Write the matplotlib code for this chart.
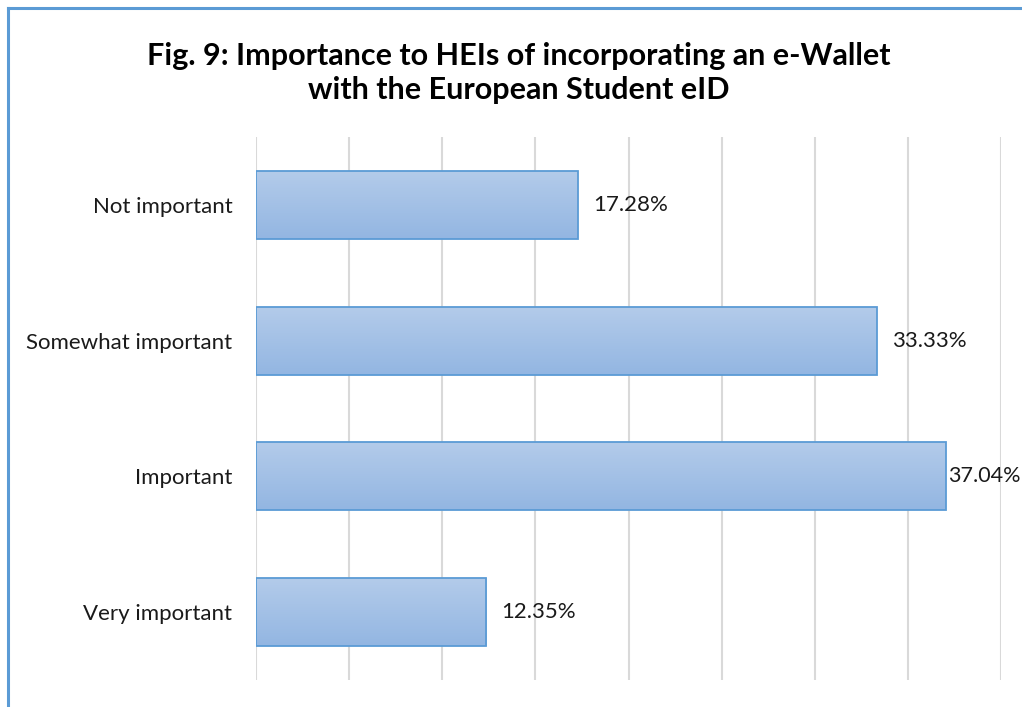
import matplotlib
matplotlib.use("Agg")
import matplotlib.pyplot as plt
import numpy as np
from matplotlib.lines import Line2D
from matplotlib.colors import LinearSegmentedColormap

categories = ["Very important", "Important", "Somewhat important", "Not important"]
values = [12.35, 37.04, 33.33, 17.28]
title = "Fig. 9: Importance to HEIs of incorporating an e-Wallet\nwith the European Student eID"

plt.rcParams['font.family'] = ['Lato', 'DejaVu Sans']

fig = plt.figure(figsize=(10.22, 7.07), dpi=100)
ax = fig.add_axes([256/1022, 27/707, 745/1022, 543/707])

y = np.arange(len(categories))
bars = ax.barh(y, values, height=0.5, color='none', edgecolor='#5B9BD5', linewidth=1.3, zorder=3)

# vertical gradient inside each bar
grad = np.linspace(0, 1, 100).reshape(-1, 1)
cmap = LinearSegmentedColormap.from_list('barg', ['#B3CBEA', '#93B6E2'])
for b in bars:
    x0, y0 = b.get_x(), b.get_y()
    w, h = b.get_width(), b.get_height()
    ax.imshow(grad, cmap=cmap, aspect='auto', extent=[x0, x0 + w, y0, y0 + h],
              origin='upper', zorder=2)

# labels sit just right of the bar; the longest one is squeezed to fit
for v, yy in zip(values, y):
    big = v > 36
    ax.annotate(f"{v:.2f}%", (v, yy), xytext=(1.5 if big else 11, 0), textcoords='offset points',
                va='center', ha='left', fontsize=15.5 if big else 16, color='#1a1a1a',
                annotation_clip=False)

ax.set_xlim(0, 40)
ax.set_ylim(-0.5, 3.5)
ax.set_xticks(np.arange(0, 41, 5))
ax.set_xticklabels([])
ax.tick_params(axis='x', length=0)
ax.tick_params(axis='y', length=0, pad=17, labelsize=16, labelcolor='#1a1a1a')
ax.set_yticks(y)
ax.set_yticklabels(categories)
ax.grid(axis='x', color='#D9D9D9', linewidth=1.5, zorder=0)
ax.set_axisbelow(True)
for s in ax.spines.values():
    s.set_visible(False)

fig.text(519/1022, 1 - 73/707, title, ha='center', va='center', fontsize=22,
         fontweight='bold', linespacing=1.3)

# chart frame
fig.add_artist(Line2D([7.5/1022, 1], [1 - 8/707, 1 - 8/707], color='#5B9BD5', linewidth=2.2))
fig.add_artist(Line2D([7.5/1022, 7.5/1022], [0, 1 - 8/707], color='#5B9BD5', linewidth=2.2))

fig.savefig("out.png", dpi=100)
